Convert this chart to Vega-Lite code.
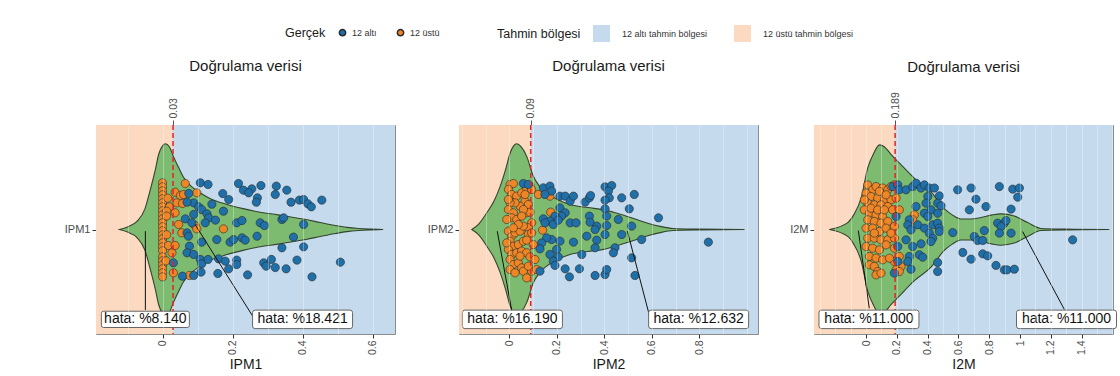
{
"$schema":"https://vega.github.io/schema/vega-lite/v6.json",
"padding":{"left":63,"top":25,"right":5,"bottom":2},
"background":"white",
"spacing":30,
"config":{"font":"Liberation Sans","view":{"stroke":"#8c8c8c","strokeWidth":1}},
"datasets":{
"bg":[
{"p":"IPM1","x1":-0.19,"x2":0.03,"r":"12 üstü tahmin bölgesi"},
{"p":"IPM1","x1":0.03,"x2":0.664,"r":"12 altı tahmin bölgesi"},
{"p":"IPM2","x1":-0.212,"x2":0.09,"r":"12 üstü tahmin bölgesi"},
{"p":"IPM2","x1":0.09,"x2":1.047,"r":"12 altı tahmin bölgesi"},
{"p":"I2M","x1":-0.338,"x2":0.189,"r":"12 üstü tahmin bölgesi"},
{"p":"I2M","x1":0.189,"x2":1.604,"r":"12 altı tahmin bölgesi"}
],
"thr":[{"p":"IPM1","t":0.03},{"p":"IPM2","t":0.09},{"p":"I2M","t":0.189}],
"lab":[
{"p":"IPM1","label":"hata: %8.140","lx":-0.049,"ly":-0.86,"ax":-0.049,"ay":-0.016,"ex":-0.049,"ey":-0.77},
{"p":"IPM1","label":"hata: %18.421","lx":0.40,"ly":-0.86,"ax":0.093,"ay":0.048,"ex":0.26,"ey":-0.842},
{"p":"IPM2","label":"hata: %16.190","lx":0.013,"ly":-0.86,"ax":-0.051,"ay":-0.016,"ex":0.010,"ey":-0.775},
{"p":"IPM2","label":"hata: %12.632","lx":0.797,"ly":-0.86,"ax":0.497,"ay":-0.016,"ex":0.592,"ey":-0.842},
{"p":"I2M","label":"hata: %11.000","lx":0.019,"ly":-0.86,"ax":-0.05,"ay":-0.01,"ex":0.021,"ey":-0.753},
{"p":"I2M","label":"hata: %11.000","lx":1.302,"ly":-0.86,"ax":1.017,"ay":-0.02,"ex":1.288,"ey":-0.765}
],
"vio":[
{"p":"IPM1","v":-0.123,"h":0,"lo":0},{"p":"IPM1","v":-0.1,"h":0.025,"lo":-0.025},{"p":"IPM1","v":-0.073,"h":0.077,"lo":-0.077},{"p":"IPM1","v":-0.05,"h":0.2,"lo":-0.2},{"p":"IPM1","v":-0.035,"h":0.38,"lo":-0.38},{"p":"IPM1","v":-0.02,"h":0.58,"lo":-0.58},{"p":"IPM1","v":-0.011,"h":0.72,"lo":-0.72},{"p":"IPM1","v":0,"h":0.8,"lo":-0.8},{"p":"IPM1","v":0.008,"h":0.82,"lo":-0.82},{"p":"IPM1","v":0.02,"h":0.79,"lo":-0.79},{"p":"IPM1","v":0.031,"h":0.7,"lo":-0.7},{"p":"IPM1","v":0.045,"h":0.6,"lo":-0.6},{"p":"IPM1","v":0.06,"h":0.5,"lo":-0.5},{"p":"IPM1","v":0.08,"h":0.42,"lo":-0.42},{"p":"IPM1","v":0.108,"h":0.35,"lo":-0.35},{"p":"IPM1","v":0.14,"h":0.29,"lo":-0.29},{"p":"IPM1","v":0.184,"h":0.24,"lo":-0.24},{"p":"IPM1","v":0.23,"h":0.2,"lo":-0.2},{"p":"IPM1","v":0.279,"h":0.165,"lo":-0.165},{"p":"IPM1","v":0.33,"h":0.14,"lo":-0.14},{"p":"IPM1","v":0.374,"h":0.115,"lo":-0.115},{"p":"IPM1","v":0.41,"h":0.095,"lo":-0.095},{"p":"IPM1","v":0.45,"h":0.067,"lo":-0.067},{"p":"IPM1","v":0.49,"h":0.04,"lo":-0.04},{"p":"IPM1","v":0.527,"h":0.02,"lo":-0.02},{"p":"IPM1","v":0.56,"h":0.01,"lo":-0.01},{"p":"IPM1","v":0.6,"h":0.004,"lo":-0.004},{"p":"IPM1","v":0.63,"h":0,"lo":0},
{"p":"IPM2","v":-0.158,"h":0,"lo":0},{"p":"IPM2","v":-0.13,"h":0.05,"lo":-0.05},{"p":"IPM2","v":-0.095,"h":0.16,"lo":-0.16},{"p":"IPM2","v":-0.065,"h":0.27,"lo":-0.27},{"p":"IPM2","v":-0.039,"h":0.41,"lo":-0.41},{"p":"IPM2","v":-0.015,"h":0.58,"lo":-0.58},{"p":"IPM2","v":0.003,"h":0.73,"lo":-0.73},{"p":"IPM2","v":0.018,"h":0.8,"lo":-0.8},{"p":"IPM2","v":0.031,"h":0.82,"lo":-0.82},{"p":"IPM2","v":0.05,"h":0.79,"lo":-0.79},{"p":"IPM2","v":0.073,"h":0.7,"lo":-0.7},{"p":"IPM2","v":0.101,"h":0.51,"lo":-0.51},{"p":"IPM2","v":0.125,"h":0.42,"lo":-0.42},{"p":"IPM2","v":0.157,"h":0.35,"lo":-0.35},{"p":"IPM2","v":0.2,"h":0.29,"lo":-0.29},{"p":"IPM2","v":0.256,"h":0.24,"lo":-0.24},{"p":"IPM2","v":0.33,"h":0.21,"lo":-0.21},{"p":"IPM2","v":0.396,"h":0.19,"lo":-0.19},{"p":"IPM2","v":0.46,"h":0.15,"lo":-0.15},{"p":"IPM2","v":0.536,"h":0.096,"lo":-0.096},{"p":"IPM2","v":0.59,"h":0.055,"lo":-0.055},{"p":"IPM2","v":0.635,"h":0.03,"lo":-0.03},{"p":"IPM2","v":0.69,"h":0.01,"lo":-0.01},{"p":"IPM2","v":0.8,"h":0.004,"lo":-0.004},{"p":"IPM2","v":0.99,"h":0,"lo":0},
{"p":"I2M","v":-0.238,"h":0,"lo":0},{"p":"I2M","v":-0.119,"h":0.066,"lo":-0.066},{"p":"I2M","v":-0.08,"h":0.14,"lo":-0.14},{"p":"I2M","v":-0.032,"h":0.3,"lo":-0.3},{"p":"I2M","v":0.011,"h":0.59,"lo":-0.59},{"p":"I2M","v":0.05,"h":0.73,"lo":-0.73},{"p":"I2M","v":0.087,"h":0.81,"lo":-0.81},{"p":"I2M","v":0.12,"h":0.79,"lo":-0.79},{"p":"I2M","v":0.162,"h":0.72,"lo":-0.72},{"p":"I2M","v":0.227,"h":0.62,"lo":-0.62},{"p":"I2M","v":0.314,"h":0.49,"lo":-0.49},{"p":"I2M","v":0.422,"h":0.36,"lo":-0.36},{"p":"I2M","v":0.508,"h":0.2,"lo":-0.2},{"p":"I2M","v":0.56,"h":0.14,"lo":-0.14},{"p":"I2M","v":0.617,"h":0.1,"lo":-0.1},{"p":"I2M","v":0.68,"h":0.1,"lo":-0.1},{"p":"I2M","v":0.747,"h":0.115,"lo":-0.115},{"p":"I2M","v":0.82,"h":0.14,"lo":-0.14},{"p":"I2M","v":0.877,"h":0.15,"lo":-0.15},{"p":"I2M","v":0.963,"h":0.13,"lo":-0.13},{"p":"I2M","v":1.05,"h":0.066,"lo":-0.066},{"p":"I2M","v":1.136,"h":0.01,"lo":-0.01},{"p":"I2M","v":1.3,"h":0.004,"lo":-0.004},{"p":"I2M","v":1.58,"h":0,"lo":0}
],
"pts":[
{"p":"IPM1","g":"12 üstü","v":0,"j":0.447},{"p":"IPM1","g":"12 üstü","v":0,"j":0.408},{"p":"IPM1","g":"12 üstü","v":0,"j":0.37},{"p":"IPM1","g":"12 üstü","v":0,"j":0.332},{"p":"IPM1","g":"12 üstü","v":0,"j":0.293},{"p":"IPM1","g":"12 üstü","v":0,"j":0.255},{"p":"IPM1","g":"12 üstü","v":0,"j":0.217},{"p":"IPM1","g":"12 üstü","v":0,"j":0.179},{"p":"IPM1","g":"12 üstü","v":0,"j":0.14},{"p":"IPM1","g":"12 üstü","v":0,"j":0.102},{"p":"IPM1","g":"12 üstü","v":0,"j":0.064},{"p":"IPM1","g":"12 üstü","v":0,"j":0.026},{"p":"IPM1","g":"12 üstü","v":0,"j":-0.013},{"p":"IPM1","g":"12 üstü","v":0,"j":-0.051},{"p":"IPM1","g":"12 üstü","v":0,"j":-0.089},{"p":"IPM1","g":"12 üstü","v":0,"j":-0.128},{"p":"IPM1","g":"12 üstü","v":0,"j":-0.166},{"p":"IPM1","g":"12 üstü","v":0,"j":-0.204},{"p":"IPM1","g":"12 üstü","v":0,"j":-0.262},{"p":"IPM1","g":"12 üstü","v":0,"j":-0.3},{"p":"IPM1","g":"12 üstü","v":0,"j":-0.338},{"p":"IPM1","g":"12 üstü","v":0,"j":-0.376},{"p":"IPM1","g":"12 üstü","v":0,"j":-0.415},{"p":"IPM1","g":"12 üstü","v":0,"j":-0.453},
{"p":"IPM1","g":"12 üstü","v":0.065,"j":0.44},{"p":"IPM1","g":"12 üstü","v":0.036,"j":0.357},{"p":"IPM1","g":"12 üstü","v":0.051,"j":0.325},{"p":"IPM1","g":"12 üstü","v":0.06,"j":0.335},{"p":"IPM1","g":"12 üstü","v":0.041,"j":0.255},{"p":"IPM1","g":"12 üstü","v":0.057,"j":0.249},{"p":"IPM1","g":"12 üstü","v":0.098,"j":0.351},{"p":"IPM1","g":"12 üstü","v":0.02,"j":0.217},{"p":"IPM1","g":"12 üstü","v":0.036,"j":0.16},{"p":"IPM1","g":"12 üstü","v":0.012,"j":0.175},{"p":"IPM1","g":"12 üstü","v":0.046,"j":0.048},{"p":"IPM1","g":"12 üstü","v":0.055,"j":-0.032},{"p":"IPM1","g":"12 üstü","v":0.093,"j":0.038},{"p":"IPM1","g":"12 üstü","v":0.098,"j":0.006},{"p":"IPM1","g":"12 üstü","v":0.174,"j":0.006},{"p":"IPM1","g":"12 üstü","v":0.017,"j":-0.153},{"p":"IPM1","g":"12 üstü","v":0.036,"j":-0.153},{"p":"IPM1","g":"12 üstü","v":0.027,"j":-0.223},{"p":"IPM1","g":"12 üstü","v":0.031,"j":-0.415},{"p":"IPM1","g":"12 üstü","v":0.077,"j":-0.44},{"p":"IPM1","g":"12 üstü","v":0.012,"j":0.128},{"p":"IPM1","g":"12 üstü","v":0.012,"j":-0.05},{"p":"IPM1","g":"12 üstü","v":0.015,"j":0.3},{"p":"IPM1","g":"12 üstü","v":0.01,"j":-0.3},
{"p":"IPM1","g":"12 altı","v":0.108,"j":0.447},{"p":"IPM1","g":"12 altı","v":0.13,"j":0.431},{"p":"IPM1","g":"12 altı","v":0.217,"j":0.44},{"p":"IPM1","g":"12 altı","v":0.231,"j":0.376},{"p":"IPM1","g":"12 altı","v":0.255,"j":0.389},{"p":"IPM1","g":"12 altı","v":0.281,"j":0.421},{"p":"IPM1","g":"12 altı","v":0.325,"j":0.415},{"p":"IPM1","g":"12 altı","v":0.355,"j":0.376},{"p":"IPM1","g":"12 altı","v":0.172,"j":0.344},{"p":"IPM1","g":"12 altı","v":0.189,"j":0.287},{"p":"IPM1","g":"12 altı","v":0.246,"j":0.351},{"p":"IPM1","g":"12 altı","v":0.271,"j":0.303},{"p":"IPM1","g":"12 altı","v":0.268,"j":0.261},{"p":"IPM1","g":"12 altı","v":0.322,"j":0.335},{"p":"IPM1","g":"12 altı","v":0.367,"j":0.261},{"p":"IPM1","g":"12 altı","v":0.391,"j":0.281},{"p":"IPM1","g":"12 altı","v":0.403,"j":0.287},{"p":"IPM1","g":"12 altı","v":0.415,"j":0.246},{"p":"IPM1","g":"12 altı","v":0.425,"j":0.217},{"p":"IPM1","g":"12 altı","v":0.455,"j":0.281},{"p":"IPM1","g":"12 altı","v":0.089,"j":0.255},{"p":"IPM1","g":"12 altı","v":0.07,"j":0.261},{"p":"IPM1","g":"12 altı","v":0.141,"j":0.242},{"p":"IPM1","g":"12 altı","v":0.103,"j":0.217},{"p":"IPM1","g":"12 altı","v":0.112,"j":0.191},{"p":"IPM1","g":"12 altı","v":0.174,"j":0.175},{"p":"IPM1","g":"12 altı","v":0.089,"j":0.144},{"p":"IPM1","g":"12 altı","v":0.127,"j":0.15},{"p":"IPM1","g":"12 altı","v":0.132,"j":0.112},{"p":"IPM1","g":"12 altı","v":0.151,"j":0.089},{"p":"IPM1","g":"12 altı","v":0.065,"j":0.102},{"p":"IPM1","g":"12 altı","v":0.084,"j":0.064},{"p":"IPM1","g":"12 altı","v":0.122,"j":0.064},{"p":"IPM1","g":"12 altı","v":0.212,"j":0.064},{"p":"IPM1","g":"12 altı","v":0.227,"j":0.086},{"p":"IPM1","g":"12 altı","v":0.279,"j":0.064},{"p":"IPM1","g":"12 altı","v":0.291,"j":0.038},{"p":"IPM1","g":"12 altı","v":0.341,"j":0.096},{"p":"IPM1","g":"12 altı","v":0.346,"j":0.112},{"p":"IPM1","g":"12 altı","v":0.403,"j":0.048},{"p":"IPM1","g":"12 altı","v":0.07,"j":-0.032},{"p":"IPM1","g":"12 altı","v":0.074,"j":-0.064},{"p":"IPM1","g":"12 altı","v":0.112,"j":-0.121},{"p":"IPM1","g":"12 altı","v":0.155,"j":-0.096},{"p":"IPM1","g":"12 altı","v":0.193,"j":-0.121},{"p":"IPM1","g":"12 altı","v":0.203,"j":-0.096},{"p":"IPM1","g":"12 altı","v":0.227,"j":-0.08},{"p":"IPM1","g":"12 altı","v":0.236,"j":-0.102},{"p":"IPM1","g":"12 altı","v":0.27,"j":-0.064},{"p":"IPM1","g":"12 altı","v":0.374,"j":-0.073},{"p":"IPM1","g":"12 altı","v":0.077,"j":-0.16},{"p":"IPM1","g":"12 altı","v":0.07,"j":-0.223},{"p":"IPM1","g":"12 altı","v":0.089,"j":-0.239},{"p":"IPM1","g":"12 altı","v":0.341,"j":-0.175},{"p":"IPM1","g":"12 altı","v":0.403,"j":-0.166},{"p":"IPM1","g":"12 altı","v":0.031,"j":-0.319},{"p":"IPM1","g":"12 altı","v":0.108,"j":-0.287},{"p":"IPM1","g":"12 altı","v":0.112,"j":-0.329},{"p":"IPM1","g":"12 altı","v":0.13,"j":-0.287},{"p":"IPM1","g":"12 altı","v":0.16,"j":-0.281},{"p":"IPM1","g":"12 altı","v":0.179,"j":-0.303},{"p":"IPM1","g":"12 altı","v":0.212,"j":-0.293},{"p":"IPM1","g":"12 altı","v":0.189,"j":-0.376},{"p":"IPM1","g":"12 altı","v":0.158,"j":-0.421},{"p":"IPM1","g":"12 altı","v":0.11,"j":-0.408},{"p":"IPM1","g":"12 altı","v":0.057,"j":-0.447},{"p":"IPM1","g":"12 altı","v":0.089,"j":-0.44},{"p":"IPM1","g":"12 altı","v":0.212,"j":-0.335},{"p":"IPM1","g":"12 altı","v":0.243,"j":-0.434},{"p":"IPM1","g":"12 altı","v":0.289,"j":-0.319},{"p":"IPM1","g":"12 altı","v":0.296,"j":-0.351},{"p":"IPM1","g":"12 altı","v":0.311,"j":-0.287},{"p":"IPM1","g":"12 altı","v":0.322,"j":-0.364},{"p":"IPM1","g":"12 altı","v":0.353,"j":-0.376},{"p":"IPM1","g":"12 altı","v":0.384,"j":-0.293},{"p":"IPM1","g":"12 altı","v":0.427,"j":-0.453},{"p":"IPM1","g":"12 altı","v":0.508,"j":-0.313},{"p":"IPM1","g":"12 altı","v":0.075,"j":0.345},
{"p":"IPM2","g":"12 üstü","v":0.003,"j":0.431},{"p":"IPM2","g":"12 üstü","v":0.017,"j":0.44},{"p":"IPM2","g":"12 üstü","v":-0.004,"j":0.383},{"p":"IPM2","g":"12 üstü","v":0.01,"j":0.335},{"p":"IPM2","g":"12 üstü","v":0.031,"j":0.319},{"p":"IPM2","g":"12 üstü","v":0.052,"j":0.351},{"p":"IPM2","g":"12 üstü","v":0.073,"j":0.399},{"p":"IPM2","g":"12 üstü","v":0.087,"j":0.415},{"p":"IPM2","g":"12 üstü","v":0.094,"j":0.383},{"p":"IPM2","g":"12 üstü","v":0.066,"j":0.271},{"p":"IPM2","g":"12 üstü","v":0.08,"j":0.239},{"p":"IPM2","g":"12 üstü","v":0.045,"j":0.223},{"p":"IPM2","g":"12 üstü","v":0.024,"j":0.255},{"p":"IPM2","g":"12 üstü","v":0.003,"j":0.255},{"p":"IPM2","g":"12 üstü","v":-0.004,"j":0.191},{"p":"IPM2","g":"12 üstü","v":0.017,"j":0.16},{"p":"IPM2","g":"12 üstü","v":0.01,"j":0.112},{"p":"IPM2","g":"12 üstü","v":0.031,"j":0.096},{"p":"IPM2","g":"12 üstü","v":0.073,"j":0.16},{"p":"IPM2","g":"12 üstü","v":0.087,"j":0.166},{"p":"IPM2","g":"12 üstü","v":0.059,"j":0.191},{"p":"IPM2","g":"12 üstü","v":-0.004,"j":0.287},{"p":"IPM2","g":"12 üstü","v":0.122,"j":0.335},{"p":"IPM2","g":"12 üstü","v":0.171,"j":0.319},{"p":"IPM2","g":"12 üstü","v":0.174,"j":0.166},{"p":"IPM2","g":"12 üstü","v":0.14,"j":-0.006},{"p":"IPM2","g":"12 üstü","v":0.094,"j":0.064},{"p":"IPM2","g":"12 üstü","v":0.08,"j":0.016},{"p":"IPM2","g":"12 üstü","v":-0.004,"j":-0.016},{"p":"IPM2","g":"12 üstü","v":0.01,"j":-0.064},{"p":"IPM2","g":"12 üstü","v":0.024,"j":-0.032},{"p":"IPM2","g":"12 üstü","v":0.045,"j":-0.016},{"p":"IPM2","g":"12 üstü","v":0.059,"j":0.032},{"p":"IPM2","g":"12 üstü","v":0.08,"j":-0.048},{"p":"IPM2","g":"12 üstü","v":0.094,"j":-0.032},{"p":"IPM2","g":"12 üstü","v":0.003,"j":-0.112},{"p":"IPM2","g":"12 üstü","v":0.017,"j":-0.16},{"p":"IPM2","g":"12 üstü","v":0.038,"j":-0.144},{"p":"IPM2","g":"12 üstü","v":0.059,"j":-0.112},{"p":"IPM2","g":"12 üstü","v":0.073,"j":-0.102},{"p":"IPM2","g":"12 üstü","v":0.101,"j":-0.144},{"p":"IPM2","g":"12 üstü","v":-0.004,"j":-0.191},{"p":"IPM2","g":"12 üstü","v":0.01,"j":-0.239},{"p":"IPM2","g":"12 üstü","v":0.031,"j":-0.223},{"p":"IPM2","g":"12 üstü","v":0.052,"j":-0.207},{"p":"IPM2","g":"12 üstü","v":0.073,"j":-0.223},{"p":"IPM2","g":"12 üstü","v":0.087,"j":-0.262},{"p":"IPM2","g":"12 üstü","v":0.108,"j":-0.287},{"p":"IPM2","g":"12 üstü","v":0.003,"j":-0.287},{"p":"IPM2","g":"12 üstü","v":0.017,"j":-0.335},{"p":"IPM2","g":"12 üstü","v":0.038,"j":-0.319},{"p":"IPM2","g":"12 üstü","v":0.052,"j":-0.367},{"p":"IPM2","g":"12 üstü","v":0.059,"j":-0.399},{"p":"IPM2","g":"12 üstü","v":0.094,"j":-0.399},{"p":"IPM2","g":"12 üstü","v":0.08,"j":-0.351},{"p":"IPM2","g":"12 üstü","v":0.003,"j":-0.383},{"p":"IPM2","g":"12 üstü","v":0.024,"j":-0.415},{"p":"IPM2","g":"12 üstü","v":0.073,"j":-0.463},{"p":"IPM2","g":"12 üstü","v":0.045,"j":-0.255},{"p":"IPM2","g":"12 üstü","v":0.115,"j":-0.383},{"p":"IPM2","g":"12 üstü","v":0.038,"j":0.048},{"p":"IPM2","g":"12 üstü","v":0.017,"j":0.016},{"p":"IPM2","g":"12 üstü","v":-0.011,"j":0.096},{"p":"IPM2","g":"12 üstü","v":0.052,"j":0.128},{"p":"IPM2","g":"12 üstü","v":-0.011,"j":-0.128},{"p":"IPM2","g":"12 üstü","v":0.066,"j":0.335},
{"p":"IPM2","g":"12 altı","v":0.059,"j":0.44},{"p":"IPM2","g":"12 altı","v":0.08,"j":0.431},{"p":"IPM2","g":"12 altı","v":0.143,"j":0.399},{"p":"IPM2","g":"12 altı","v":0.171,"j":0.415},{"p":"IPM2","g":"12 altı","v":0.178,"j":0.367},{"p":"IPM2","g":"12 altı","v":0.15,"j":0.335},{"p":"IPM2","g":"12 altı","v":0.213,"j":0.319},{"p":"IPM2","g":"12 altı","v":0.235,"j":0.319},{"p":"IPM2","g":"12 altı","v":0.256,"j":0.271},{"p":"IPM2","g":"12 altı","v":0.27,"j":0.319},{"p":"IPM2","g":"12 altı","v":0.319,"j":0.262},{"p":"IPM2","g":"12 altı","v":0.337,"j":0.303},{"p":"IPM2","g":"12 altı","v":0.342,"j":0.325},{"p":"IPM2","g":"12 altı","v":0.403,"j":0.408},{"p":"IPM2","g":"12 altı","v":0.431,"j":0.421},{"p":"IPM2","g":"12 altı","v":0.417,"j":0.367},{"p":"IPM2","g":"12 altı","v":0.421,"j":0.303},{"p":"IPM2","g":"12 altı","v":0.403,"j":0.281},{"p":"IPM2","g":"12 altı","v":0.473,"j":0.303},{"p":"IPM2","g":"12 altı","v":0.526,"j":0.335},{"p":"IPM2","g":"12 altı","v":0.505,"j":0.198},{"p":"IPM2","g":"12 altı","v":0.403,"j":0.198},{"p":"IPM2","g":"12 altı","v":0.628,"j":0.112},{"p":"IPM2","g":"12 altı","v":0.213,"j":0.207},{"p":"IPM2","g":"12 altı","v":0.235,"j":0.16},{"p":"IPM2","g":"12 altı","v":0.22,"j":0.128},{"p":"IPM2","g":"12 altı","v":0.192,"j":0.128},{"p":"IPM2","g":"12 altı","v":0.143,"j":0.102},{"p":"IPM2","g":"12 altı","v":0.171,"j":0.08},{"p":"IPM2","g":"12 altı","v":0.15,"j":0.064},{"p":"IPM2","g":"12 altı","v":0.185,"j":0.048},{"p":"IPM2","g":"12 altı","v":0.206,"j":0.089},{"p":"IPM2","g":"12 altı","v":0.256,"j":0.064},{"p":"IPM2","g":"12 altı","v":0.281,"j":0.064},{"p":"IPM2","g":"12 altı","v":0.337,"j":0.128},{"p":"IPM2","g":"12 altı","v":0.34,"j":0.07},{"p":"IPM2","g":"12 altı","v":0.368,"j":0.032},{"p":"IPM2","g":"12 altı","v":0.361,"j":0},{"p":"IPM2","g":"12 altı","v":0.41,"j":0.128},{"p":"IPM2","g":"12 altı","v":0.459,"j":0.096},{"p":"IPM2","g":"12 altı","v":0.41,"j":0.038},{"p":"IPM2","g":"12 altı","v":0.515,"j":0.032},{"p":"IPM2","g":"12 altı","v":0.403,"j":-0.048},{"p":"IPM2","g":"12 altı","v":0.473,"j":-0.048},{"p":"IPM2","g":"12 altı","v":0.557,"j":-0.096},{"p":"IPM2","g":"12 altı","v":0.326,"j":-0.064},{"p":"IPM2","g":"12 altı","v":0.368,"j":-0.102},{"p":"IPM2","g":"12 altı","v":0.27,"j":-0.121},{"p":"IPM2","g":"12 altı","v":0.213,"j":-0.112},{"p":"IPM2","g":"12 altı","v":0.178,"j":-0.096},{"p":"IPM2","g":"12 altı","v":0.157,"j":-0.08},{"p":"IPM2","g":"12 altı","v":0.136,"j":-0.128},{"p":"IPM2","g":"12 altı","v":0.129,"j":-0.185},{"p":"IPM2","g":"12 altı","v":0.171,"j":-0.239},{"p":"IPM2","g":"12 altı","v":0.199,"j":-0.191},{"p":"IPM2","g":"12 altı","v":0.206,"j":-0.262},{"p":"IPM2","g":"12 altı","v":0.185,"j":-0.303},{"p":"IPM2","g":"12 altı","v":0.192,"j":-0.344},{"p":"IPM2","g":"12 altı","v":0.305,"j":-0.239},{"p":"IPM2","g":"12 altı","v":0.361,"j":-0.175},{"p":"IPM2","g":"12 altı","v":0.445,"j":-0.175},{"p":"IPM2","g":"12 altı","v":0.438,"j":-0.223},{"p":"IPM2","g":"12 altı","v":0.515,"j":-0.271},{"p":"IPM2","g":"12 altı","v":0.529,"j":-0.44},{"p":"IPM2","g":"12 altı","v":0.235,"j":-0.376},{"p":"IPM2","g":"12 altı","v":0.253,"j":-0.453},{"p":"IPM2","g":"12 altı","v":0.295,"j":-0.376},{"p":"IPM2","g":"12 altı","v":0.361,"j":-0.44},{"p":"IPM2","g":"12 altı","v":0.403,"j":-0.431},{"p":"IPM2","g":"12 altı","v":0.41,"j":-0.383},{"p":"IPM2","g":"12 altı","v":0.838,"j":-0.121},{"p":"IPM2","g":"12 altı","v":0.129,"j":-0.399},
{"p":"I2M","g":"12 üstü","v":0.011,"j":0.427},{"p":"I2M","g":"12 üstü","v":0.043,"j":0.38},{"p":"I2M","g":"12 üstü","v":0.065,"j":0.411},{"p":"I2M","g":"12 üstü","v":0.108,"j":0.397},{"p":"I2M","g":"12 üstü","v":0.141,"j":0.38},{"p":"I2M","g":"12 üstü","v":0.162,"j":0.411},{"p":"I2M","g":"12 üstü","v":0.184,"j":0.427},{"p":"I2M","g":"12 üstü","v":0,"j":0.348},{"p":"I2M","g":"12 üstü","v":0.032,"j":0.316},{"p":"I2M","g":"12 üstü","v":0.076,"j":0.3},{"p":"I2M","g":"12 üstü","v":0.119,"j":0.284},{"p":"I2M","g":"12 üstü","v":0.162,"j":0.284},{"p":"I2M","g":"12 üstü","v":0.195,"j":0.3},{"p":"I2M","g":"12 üstü","v":0.011,"j":0.252},{"p":"I2M","g":"12 üstü","v":0.054,"j":0.236},{"p":"I2M","g":"12 üstü","v":0.097,"j":0.236},{"p":"I2M","g":"12 üstü","v":0.141,"j":0.22},{"p":"I2M","g":"12 üstü","v":0.173,"j":0.188},{"p":"I2M","g":"12 üstü","v":0.216,"j":0.188},{"p":"I2M","g":"12 üstü","v":-0.011,"j":0.188},{"p":"I2M","g":"12 üstü","v":0.022,"j":0.156},{"p":"I2M","g":"12 üstü","v":0.065,"j":0.14},{"p":"I2M","g":"12 üstü","v":0.108,"j":0.124},{"p":"I2M","g":"12 üstü","v":0.011,"j":0.093},{"p":"I2M","g":"12 üstü","v":0.054,"j":0.077},{"p":"I2M","g":"12 üstü","v":0.097,"j":0.061},{"p":"I2M","g":"12 üstü","v":0.141,"j":0.077},{"p":"I2M","g":"12 üstü","v":0.314,"j":0.14},{"p":"I2M","g":"12 üstü","v":0.303,"j":0.093},{"p":"I2M","g":"12 üstü","v":0,"j":0.013},{"p":"I2M","g":"12 üstü","v":0.043,"j":0.013},{"p":"I2M","g":"12 üstü","v":0.087,"j":-0.019},{"p":"I2M","g":"12 üstü","v":0.13,"j":0.013},{"p":"I2M","g":"12 üstü","v":0.184,"j":0.029},{"p":"I2M","g":"12 üstü","v":0.011,"j":-0.083},{"p":"I2M","g":"12 üstü","v":0.054,"j":-0.083},{"p":"I2M","g":"12 üstü","v":0.097,"j":-0.099},{"p":"I2M","g":"12 üstü","v":0.141,"j":-0.099},{"p":"I2M","g":"12 üstü","v":0.184,"j":-0.083},{"p":"I2M","g":"12 üstü","v":0,"j":-0.163},{"p":"I2M","g":"12 üstü","v":0.043,"j":-0.179},{"p":"I2M","g":"12 üstü","v":0.087,"j":-0.195},{"p":"I2M","g":"12 üstü","v":0.13,"j":-0.147},{"p":"I2M","g":"12 üstü","v":0.216,"j":-0.258},{"p":"I2M","g":"12 üstü","v":0.022,"j":-0.258},{"p":"I2M","g":"12 üstü","v":0.065,"j":-0.274},{"p":"I2M","g":"12 üstü","v":0.108,"j":-0.29},{"p":"I2M","g":"12 üstü","v":0.184,"j":-0.306},{"p":"I2M","g":"12 üstü","v":0.022,"j":-0.338},{"p":"I2M","g":"12 üstü","v":0.054,"j":-0.354},{"p":"I2M","g":"12 üstü","v":0.076,"j":-0.402},{"p":"I2M","g":"12 üstü","v":0.065,"j":-0.434},{"p":"I2M","g":"12 üstü","v":0.227,"j":-0.354},{"p":"I2M","g":"12 üstü","v":0.195,"j":-0.386},{"p":"I2M","g":"12 üstü","v":0.184,"j":-0.179},{"p":"I2M","g":"12 üstü","v":0.152,"j":-0.274},{"p":"I2M","g":"12 üstü","v":0.032,"j":0.204},{"p":"I2M","g":"12 üstü","v":0.076,"j":0.188},{"p":"I2M","g":"12 üstü","v":0.119,"j":0.188},{"p":"I2M","g":"12 üstü","v":-0.011,"j":0.284},{"p":"I2M","g":"12 üstü","v":0.087,"j":0.364},{"p":"I2M","g":"12 üstü","v":0.13,"j":0.332},{"p":"I2M","g":"12 üstü","v":0.054,"j":-0.035},{"p":"I2M","g":"12 üstü","v":0.162,"j":-0.035},{"p":"I2M","g":"12 üstü","v":0.216,"j":-0.402},{"p":"I2M","g":"12 üstü","v":0.097,"j":-0.418},
{"p":"I2M","g":"12 altı","v":0.173,"j":0.411},{"p":"I2M","g":"12 altı","v":0.206,"j":0.427},{"p":"I2M","g":"12 altı","v":0.216,"j":0.38},{"p":"I2M","g":"12 altı","v":0.26,"j":0.38},{"p":"I2M","g":"12 altı","v":0.303,"j":0.411},{"p":"I2M","g":"12 altı","v":0.325,"j":0.443},{"p":"I2M","g":"12 altı","v":0.357,"j":0.397},{"p":"I2M","g":"12 altı","v":0.379,"j":0.427},{"p":"I2M","g":"12 altı","v":0.411,"j":0.397},{"p":"I2M","g":"12 altı","v":0.444,"j":0.397},{"p":"I2M","g":"12 altı","v":0.401,"j":0.316},{"p":"I2M","g":"12 altı","v":0.476,"j":0.322},{"p":"I2M","g":"12 altı","v":0.39,"j":0.252},{"p":"I2M","g":"12 altı","v":0.325,"j":0.22},{"p":"I2M","g":"12 altı","v":0.465,"j":0.252},{"p":"I2M","g":"12 altı","v":0.422,"j":0.188},{"p":"I2M","g":"12 altı","v":0.487,"j":0.227},{"p":"I2M","g":"12 altı","v":0.379,"j":0.156},{"p":"I2M","g":"12 altı","v":0.465,"j":0.156},{"p":"I2M","g":"12 altı","v":0.401,"j":0.124},{"p":"I2M","g":"12 altı","v":0.281,"j":0.093},{"p":"I2M","g":"12 altı","v":0.271,"j":0.045},{"p":"I2M","g":"12 altı","v":0.336,"j":0.045},{"p":"I2M","g":"12 altı","v":0.292,"j":-0.003},{"p":"I2M","g":"12 altı","v":0.379,"j":0.013},{"p":"I2M","g":"12 altı","v":0.433,"j":0.045},{"p":"I2M","g":"12 altı","v":0.465,"j":0.061},{"p":"I2M","g":"12 altı","v":0.476,"j":0.013},{"p":"I2M","g":"12 altı","v":0.411,"j":-0.035},{"p":"I2M","g":"12 altı","v":0.433,"j":-0.083},{"p":"I2M","g":"12 altı","v":0.476,"j":-0.019},{"p":"I2M","g":"12 altı","v":0.422,"j":-0.115},{"p":"I2M","g":"12 altı","v":0.563,"j":-0.029},{"p":"I2M","g":"12 altı","v":0.595,"j":0.38},{"p":"I2M","g":"12 altı","v":0.682,"j":0.397},{"p":"I2M","g":"12 altı","v":0.714,"j":0.29},{"p":"I2M","g":"12 altı","v":0.671,"j":0.188},{"p":"I2M","g":"12 altı","v":0.779,"j":0.22},{"p":"I2M","g":"12 altı","v":0.866,"j":0.411},{"p":"I2M","g":"12 altı","v":0.953,"j":0.386},{"p":"I2M","g":"12 altı","v":0.996,"j":0.397},{"p":"I2M","g":"12 altı","v":0.985,"j":0.309},{"p":"I2M","g":"12 altı","v":0.942,"j":0.195},{"p":"I2M","g":"12 altı","v":0.855,"j":0.061},{"p":"I2M","g":"12 altı","v":0.898,"j":0.061},{"p":"I2M","g":"12 altı","v":0.909,"j":0.086},{"p":"I2M","g":"12 altı","v":0.877,"j":0.029},{"p":"I2M","g":"12 altı","v":0.768,"j":-0.01},{"p":"I2M","g":"12 altı","v":0.703,"j":-0.067},{"p":"I2M","g":"12 altı","v":0.725,"j":-0.105},{"p":"I2M","g":"12 altı","v":0.758,"j":-0.105},{"p":"I2M","g":"12 altı","v":0.866,"j":-0.035},{"p":"I2M","g":"12 altı","v":0.942,"j":-0.035},{"p":"I2M","g":"12 altı","v":0.195,"j":0.124},{"p":"I2M","g":"12 altı","v":0.206,"j":-0.163},{"p":"I2M","g":"12 altı","v":0.26,"j":-0.099},{"p":"I2M","g":"12 altı","v":0.303,"j":-0.163},{"p":"I2M","g":"12 altı","v":0.357,"j":-0.137},{"p":"I2M","g":"12 altı","v":0.346,"j":-0.242},{"p":"I2M","g":"12 altı","v":0.368,"j":-0.265},{"p":"I2M","g":"12 altı","v":0.281,"j":-0.258},{"p":"I2M","g":"12 altı","v":0.271,"j":-0.306},{"p":"I2M","g":"12 altı","v":0.292,"j":-0.38},{"p":"I2M","g":"12 altı","v":0.206,"j":-0.306},{"p":"I2M","g":"12 altı","v":0.184,"j":-0.418},{"p":"I2M","g":"12 altı","v":0.465,"j":-0.316},{"p":"I2M","g":"12 altı","v":0.465,"j":-0.402},{"p":"I2M","g":"12 altı","v":0.628,"j":-0.22},{"p":"I2M","g":"12 altı","v":0.682,"j":-0.284},{"p":"I2M","g":"12 altı","v":0.758,"j":-0.233},{"p":"I2M","g":"12 altı","v":0.79,"j":-0.252},{"p":"I2M","g":"12 altı","v":0.844,"j":-0.344},{"p":"I2M","g":"12 altı","v":0.898,"j":-0.386},{"p":"I2M","g":"12 altı","v":0.916,"j":-0.386},{"p":"I2M","g":"12 altı","v":0.963,"j":-0.38},{"p":"I2M","g":"12 altı","v":1.342,"j":-0.099}
]
},
"hconcat":[
{"width":299,"height":209,
"title":{"text":"Doğrulama verisi","fontSize":15,"fontWeight":"normal","color":"#1a1a1a","frame":"group","offset":24},
"resolve":{"axis":{"x":"independent","y":"independent"}},
"layer":[
{"data":{"name":"bg"},"transform":[{"filter":"datum.p == 'IPM1'"}],"mark":{"type":"rect"},
"encoding":{"x":{"field":"x1","type":"quantitative","scale":{"domain":[-0.19,0.664],"nice":false,"zero":false},"axis":null},"x2":{"field":"x2"},
"fill":{"field":"r","type":"nominal","scale":{"domain":["12 altı tahmin bölgesi","12 üstü tahmin bölgesi"],"range":["#c5dbed","#fcdac1"]},
"legend":{"title":"Tahmin bölgesi","orient":"none","legendX":401,"legendY":-100,"direction":"horizontal","titleOrient":"left","titleFontSize":12.5,"titleFontWeight":"normal","titleColor":"#1a1a1a","titlePadding":12,"labelFontSize":9,"labelColor":"#333","symbolType":"square","symbolSize":289,"symbolStrokeWidth":0,"labelOffset":12,"columnPadding":26}}}},
{"data":{"name":"vio"},"transform":[{"filter":"datum.p == 'IPM1'"}],"mark":{"type":"area","interpolate":"monotone","fill":"#7dbb70","stroke":"#33432f","strokeWidth":1.1,"opacity":1},
"encoding":{"x":{"field":"v","type":"quantitative","scale":{"domain":[-0.19,0.664],"nice":false,"zero":false},"axis":null},
"y":{"field":"h","type":"quantitative","scale":{"domain":[-1,1],"nice":false,"zero":false},"axis":{"values":[0],"labelExpr":"'IPM1'","title":null,"domain":false,"grid":false,"tickSize":4,"tickColor":"#333","labelFontSize":11,"labelColor":"#4d4d4d","labelPadding":2}},
"y2":{"field":"lo"}}},
{"data":{"name":"pts"},"transform":[{"filter":"datum.p == 'IPM1'"}],"mark":{"type":"circle","size":68,"stroke":"#2a2a2a","strokeWidth":0.6,"opacity":1},
"encoding":{"x":{"field":"v","type":"quantitative","scale":{"domain":[-0.19,0.664],"nice":false,"zero":false},
"axis":{"orient":"bottom","title":"IPM1","format":".1~f","values":[-0.1,0,0.1,0.2,0.3,0.4,0.5,0.6],"labelExpr":"(datum.value > -0.000001 && abs(datum.value*5 - round(datum.value*5)) < 0.000001) ? datum.label : ''","labelAngle":-90,"labelFontSize":10.5,"labelColor":"#4d4d4d","labelPadding":2,"labelOverlap":false,"labelFlush":false,"tickSize":4,"tickColor":{"condition":{"test":"datum.value > -0.000001 && abs(datum.value*5 - round(datum.value*5)) < 0.000001","value":"#333"},"value":"rgba(0,0,0,0)"},"domain":false,"grid":true,"gridColor":"white","gridOpacity":0.4,"gridWidth":0.8,"zindex":1,"titleFontSize":14,"titleFontWeight":"normal","titleColor":"#1a1a1a","titlePadding":3}},
"y":{"field":"j","type":"quantitative","scale":{"domain":[-1,1],"nice":false,"zero":false},"axis":null},
"color":{"field":"g","type":"nominal","scale":{"domain":["12 altı","12 üstü"],"range":["#1f6fa8","#ee8625"]},
"legend":{"title":"Gerçek","orient":"none","legendX":189,"legendY":-97,"direction":"horizontal","titleOrient":"left","titleFontSize":12.5,"titleFontWeight":"normal","titleColor":"#1a1a1a","titlePadding":12,"labelFontSize":9,"labelColor":"#333","symbolType":"circle","symbolSize":40,"labelOffset":5,"columnPadding":17}}}},
{"data":{"name":"thr"},"transform":[{"filter":"datum.p == 'IPM1'"}],"mark":{"type":"rule","color":"#e3242b","strokeDash":[5,3],"strokeWidth":1.5},
"encoding":{"x":{"field":"t","type":"quantitative","scale":{"domain":[-0.19,0.664],"nice":false,"zero":false},"axis":{"orient":"top","format":".2~f","values":[0.03],"title":null,"labelAngle":-90,"labelFontSize":10.5,"labelColor":"#4d4d4d","labelPadding":2,"tickSize":5,"tickColor":"#555","domain":false,"grid":false,"labelFlush":false,"labelOverlap":false}}}},
{"data":{"name":"lab"},"transform":[{"filter":"datum.p == 'IPM1'"}],"mark":{"type":"rule","color":"#111","strokeWidth":1},
"encoding":{"x":{"field":"ax","type":"quantitative","scale":{"domain":[-0.19,0.664],"nice":false,"zero":false},"axis":null},"x2":{"field":"ex"},"y":{"field":"ay","type":"quantitative","scale":{"domain":[-1,1],"nice":false,"zero":false},"axis":null},"y2":{"field":"ey"}}},
{"data":{"name":"lab"},"transform":[{"filter":"datum.p == 'IPM1'"}],"mark":{"type":"point","shape":"M-0.95,-0.185L0.95,-0.185Q1,-0.185,1,-0.135L1,0.135Q1,0.185,0.95,0.185L-0.95,0.185Q-1,0.185,-1,0.135L-1,-0.135Q-1,-0.185,-0.95,-0.185Z","filled":true,"fill":"white","stroke":"#666","strokeWidth":1,"opacity":1},
"encoding":{"x":{"field":"lx","type":"quantitative","scale":{"domain":[-0.19,0.664],"nice":false,"zero":false},"axis":null},"y":{"field":"ly","type":"quantitative","scale":{"domain":[-1,1],"nice":false,"zero":false},"axis":null},"size":{"condition":{"test":"length(datum.label) > 12","value":10000},"value":7744}}},
{"data":{"name":"lab"},"transform":[{"filter":"datum.p == 'IPM1'"}],"mark":{"type":"text","fontSize":14,"color":"#111"},
"encoding":{"x":{"field":"lx","type":"quantitative","scale":{"domain":[-0.19,0.664],"nice":false,"zero":false},"axis":null},"y":{"field":"ly","type":"quantitative","scale":{"domain":[-1,1],"nice":false,"zero":false},"axis":null},"text":{"field":"label"}}}
]},
{"width":299,"height":209,
"title":{"text":"Doğrulama verisi","fontSize":15,"fontWeight":"normal","color":"#1a1a1a","frame":"group","offset":24},
"resolve":{"axis":{"x":"independent","y":"independent"}},
"layer":[
{"data":{"name":"bg"},"transform":[{"filter":"datum.p == 'IPM2'"}],"mark":{"type":"rect"},
"encoding":{"x":{"field":"x1","type":"quantitative","scale":{"domain":[-0.212,1.047],"nice":false,"zero":false},"axis":null},"x2":{"field":"x2"},
"fill":{"field":"r","type":"nominal","scale":{"domain":["12 altı tahmin bölgesi","12 üstü tahmin bölgesi"],"range":["#c5dbed","#fcdac1"]},
"legend":{"title":"Tahmin bölgesi","orient":"none","legendX":401,"legendY":-100,"direction":"horizontal","titleOrient":"left","titleFontSize":12.5,"titleFontWeight":"normal","titleColor":"#1a1a1a","titlePadding":12,"labelFontSize":9,"labelColor":"#333","symbolType":"square","symbolSize":289,"symbolStrokeWidth":0,"labelOffset":12,"columnPadding":26}}}},
{"data":{"name":"vio"},"transform":[{"filter":"datum.p == 'IPM2'"}],"mark":{"type":"area","interpolate":"monotone","fill":"#7dbb70","stroke":"#33432f","strokeWidth":1.1,"opacity":1},
"encoding":{"x":{"field":"v","type":"quantitative","scale":{"domain":[-0.212,1.047],"nice":false,"zero":false},"axis":null},
"y":{"field":"h","type":"quantitative","scale":{"domain":[-1,1],"nice":false,"zero":false},"axis":{"values":[0],"labelExpr":"'IPM2'","title":null,"domain":false,"grid":false,"tickSize":4,"tickColor":"#333","labelFontSize":11,"labelColor":"#4d4d4d","labelPadding":2}},
"y2":{"field":"lo"}}},
{"data":{"name":"pts"},"transform":[{"filter":"datum.p == 'IPM2'"}],"mark":{"type":"circle","size":68,"stroke":"#2a2a2a","strokeWidth":0.6,"opacity":1},
"encoding":{"x":{"field":"v","type":"quantitative","scale":{"domain":[-0.212,1.047],"nice":false,"zero":false},
"axis":{"orient":"bottom","title":"IPM2","format":".1~f","values":[-0.2,-0.1,0,0.1,0.2,0.3,0.4,0.5,0.6,0.7,0.8,0.9,1.0],"labelExpr":"(datum.value > -0.000001 && abs(datum.value*5 - round(datum.value*5)) < 0.000001 && datum.value < 0.95) ? datum.label : ''","labelAngle":-90,"labelFontSize":10.5,"labelColor":"#4d4d4d","labelPadding":2,"labelOverlap":false,"labelFlush":false,"tickSize":4,"tickColor":{"condition":{"test":"datum.value > -0.000001 && abs(datum.value*5 - round(datum.value*5)) < 0.000001 && datum.value < 0.95","value":"#333"},"value":"rgba(0,0,0,0)"},"domain":false,"grid":true,"gridColor":"white","gridOpacity":0.4,"gridWidth":0.8,"zindex":1,"titleFontSize":14,"titleFontWeight":"normal","titleColor":"#1a1a1a","titlePadding":3}},
"y":{"field":"j","type":"quantitative","scale":{"domain":[-1,1],"nice":false,"zero":false},"axis":null},
"color":{"field":"g","type":"nominal","scale":{"domain":["12 altı","12 üstü"],"range":["#1f6fa8","#ee8625"]},
"legend":{"title":"Gerçek","orient":"none","legendX":189,"legendY":-97,"direction":"horizontal","titleOrient":"left","titleFontSize":12.5,"titleFontWeight":"normal","titleColor":"#1a1a1a","titlePadding":12,"labelFontSize":9,"labelColor":"#333","symbolType":"circle","symbolSize":40,"labelOffset":5,"columnPadding":17}}}},
{"data":{"name":"thr"},"transform":[{"filter":"datum.p == 'IPM2'"}],"mark":{"type":"rule","color":"#e3242b","strokeDash":[5,3],"strokeWidth":1.5},
"encoding":{"x":{"field":"t","type":"quantitative","scale":{"domain":[-0.212,1.047],"nice":false,"zero":false},"axis":{"orient":"top","format":".2~f","values":[0.09],"title":null,"labelAngle":-90,"labelFontSize":10.5,"labelColor":"#4d4d4d","labelPadding":2,"tickSize":5,"tickColor":"#555","domain":false,"grid":false,"labelFlush":false,"labelOverlap":false}}}},
{"data":{"name":"lab"},"transform":[{"filter":"datum.p == 'IPM2'"}],"mark":{"type":"rule","color":"#111","strokeWidth":1},
"encoding":{"x":{"field":"ax","type":"quantitative","scale":{"domain":[-0.212,1.047],"nice":false,"zero":false},"axis":null},"x2":{"field":"ex"},"y":{"field":"ay","type":"quantitative","scale":{"domain":[-1,1],"nice":false,"zero":false},"axis":null},"y2":{"field":"ey"}}},
{"data":{"name":"lab"},"transform":[{"filter":"datum.p == 'IPM2'"}],"mark":{"type":"point","shape":"M-0.95,-0.185L0.95,-0.185Q1,-0.185,1,-0.135L1,0.135Q1,0.185,0.95,0.185L-0.95,0.185Q-1,0.185,-1,0.135L-1,-0.135Q-1,-0.185,-0.95,-0.185Z","filled":true,"fill":"white","stroke":"#666","strokeWidth":1,"opacity":1},
"encoding":{"x":{"field":"lx","type":"quantitative","scale":{"domain":[-0.212,1.047],"nice":false,"zero":false},"axis":null},"y":{"field":"ly","type":"quantitative","scale":{"domain":[-1,1],"nice":false,"zero":false},"axis":null},"size":{"condition":{"test":"length(datum.label) > 12","value":10000},"value":7744}}},
{"data":{"name":"lab"},"transform":[{"filter":"datum.p == 'IPM2'"}],"mark":{"type":"text","fontSize":14,"color":"#111"},
"encoding":{"x":{"field":"lx","type":"quantitative","scale":{"domain":[-0.212,1.047],"nice":false,"zero":false},"axis":null},"y":{"field":"ly","type":"quantitative","scale":{"domain":[-1,1],"nice":false,"zero":false},"axis":null},"text":{"field":"label"}}}
]},
{"width":299,"height":209,
"title":{"text":"Doğrulama verisi","fontSize":15,"fontWeight":"normal","color":"#1a1a1a","frame":"group","offset":17},
"resolve":{"axis":{"x":"independent","y":"independent"}},
"layer":[
{"data":{"name":"bg"},"transform":[{"filter":"datum.p == 'I2M'"}],"mark":{"type":"rect"},
"encoding":{"x":{"field":"x1","type":"quantitative","scale":{"domain":[-0.338,1.604],"nice":false,"zero":false},"axis":null},"x2":{"field":"x2"},
"fill":{"field":"r","type":"nominal","scale":{"domain":["12 altı tahmin bölgesi","12 üstü tahmin bölgesi"],"range":["#c5dbed","#fcdac1"]},
"legend":{"title":"Tahmin bölgesi","orient":"none","legendX":401,"legendY":-100,"direction":"horizontal","titleOrient":"left","titleFontSize":12.5,"titleFontWeight":"normal","titleColor":"#1a1a1a","titlePadding":12,"labelFontSize":9,"labelColor":"#333","symbolType":"square","symbolSize":289,"symbolStrokeWidth":0,"labelOffset":12,"columnPadding":26}}}},
{"data":{"name":"vio"},"transform":[{"filter":"datum.p == 'I2M'"}],"mark":{"type":"area","interpolate":"monotone","fill":"#7dbb70","stroke":"#33432f","strokeWidth":1.1,"opacity":1},
"encoding":{"x":{"field":"v","type":"quantitative","scale":{"domain":[-0.338,1.604],"nice":false,"zero":false},"axis":null},
"y":{"field":"h","type":"quantitative","scale":{"domain":[-1,1],"nice":false,"zero":false},"axis":{"values":[0],"labelExpr":"'I2M'","title":null,"domain":false,"grid":false,"tickSize":4,"tickColor":"#333","labelFontSize":11,"labelColor":"#4d4d4d","labelPadding":2}},
"y2":{"field":"lo"}}},
{"data":{"name":"pts"},"transform":[{"filter":"datum.p == 'I2M'"}],"mark":{"type":"circle","size":68,"stroke":"#2a2a2a","strokeWidth":0.6,"opacity":1},
"encoding":{"x":{"field":"v","type":"quantitative","scale":{"domain":[-0.338,1.604],"nice":false,"zero":false},
"axis":{"orient":"bottom","title":"I2M","format":".1~f","values":[-0.3,-0.2,-0.1,0,0.1,0.2,0.3,0.4,0.5,0.6,0.7,0.8,0.9,1.0,1.1,1.2,1.3,1.4,1.5,1.6],"labelExpr":"(datum.value > -0.000001 && abs(datum.value*5 - round(datum.value*5)) < 0.000001 && datum.value < 1.5) ? datum.label : ''","labelAngle":-90,"labelFontSize":10.5,"labelColor":"#4d4d4d","labelPadding":2,"labelOverlap":false,"labelFlush":false,"tickSize":4,"tickColor":{"condition":{"test":"datum.value > -0.000001 && abs(datum.value*5 - round(datum.value*5)) < 0.000001 && datum.value < 1.5","value":"#333"},"value":"rgba(0,0,0,0)"},"domain":false,"grid":true,"gridColor":"white","gridOpacity":0.4,"gridWidth":0.8,"zindex":1,"titleFontSize":14,"titleFontWeight":"normal","titleColor":"#1a1a1a","titlePadding":3}},
"y":{"field":"j","type":"quantitative","scale":{"domain":[-1,1],"nice":false,"zero":false},"axis":null},
"color":{"field":"g","type":"nominal","scale":{"domain":["12 altı","12 üstü"],"range":["#1f6fa8","#ee8625"]},
"legend":{"title":"Gerçek","orient":"none","legendX":189,"legendY":-97,"direction":"horizontal","titleOrient":"left","titleFontSize":12.5,"titleFontWeight":"normal","titleColor":"#1a1a1a","titlePadding":12,"labelFontSize":9,"labelColor":"#333","symbolType":"circle","symbolSize":40,"labelOffset":5,"columnPadding":17}}}},
{"data":{"name":"thr"},"transform":[{"filter":"datum.p == 'I2M'"}],"mark":{"type":"rule","color":"#e3242b","strokeDash":[5,3],"strokeWidth":1.5},
"encoding":{"x":{"field":"t","type":"quantitative","scale":{"domain":[-0.338,1.604],"nice":false,"zero":false},"axis":{"orient":"top","format":".3~f","values":[0.189],"title":null,"labelAngle":-90,"labelFontSize":10.5,"labelColor":"#4d4d4d","labelPadding":2,"tickSize":5,"tickColor":"#555","domain":false,"grid":false,"labelFlush":false,"labelOverlap":false}}}},
{"data":{"name":"lab"},"transform":[{"filter":"datum.p == 'I2M'"}],"mark":{"type":"rule","color":"#111","strokeWidth":1},
"encoding":{"x":{"field":"ax","type":"quantitative","scale":{"domain":[-0.338,1.604],"nice":false,"zero":false},"axis":null},"x2":{"field":"ex"},"y":{"field":"ay","type":"quantitative","scale":{"domain":[-1,1],"nice":false,"zero":false},"axis":null},"y2":{"field":"ey"}}},
{"data":{"name":"lab"},"transform":[{"filter":"datum.p == 'I2M'"}],"mark":{"type":"point","shape":"M-0.95,-0.185L0.95,-0.185Q1,-0.185,1,-0.135L1,0.135Q1,0.185,0.95,0.185L-0.95,0.185Q-1,0.185,-1,0.135L-1,-0.135Q-1,-0.185,-0.95,-0.185Z","filled":true,"fill":"white","stroke":"#666","strokeWidth":1,"opacity":1},
"encoding":{"x":{"field":"lx","type":"quantitative","scale":{"domain":[-0.338,1.604],"nice":false,"zero":false},"axis":null},"y":{"field":"ly","type":"quantitative","scale":{"domain":[-1,1],"nice":false,"zero":false},"axis":null},"size":{"condition":{"test":"length(datum.label) > 12","value":10000},"value":7744}}},
{"data":{"name":"lab"},"transform":[{"filter":"datum.p == 'I2M'"}],"mark":{"type":"text","fontSize":14,"color":"#111"},
"encoding":{"x":{"field":"lx","type":"quantitative","scale":{"domain":[-0.338,1.604],"nice":false,"zero":false},"axis":null},"y":{"field":"ly","type":"quantitative","scale":{"domain":[-1,1],"nice":false,"zero":false},"axis":null},"text":{"field":"label"}}}
]}
],
"resolve":{"scale":{"color":"shared","fill":"shared"},"legend":{"color":"shared","fill":"shared"}}
}
